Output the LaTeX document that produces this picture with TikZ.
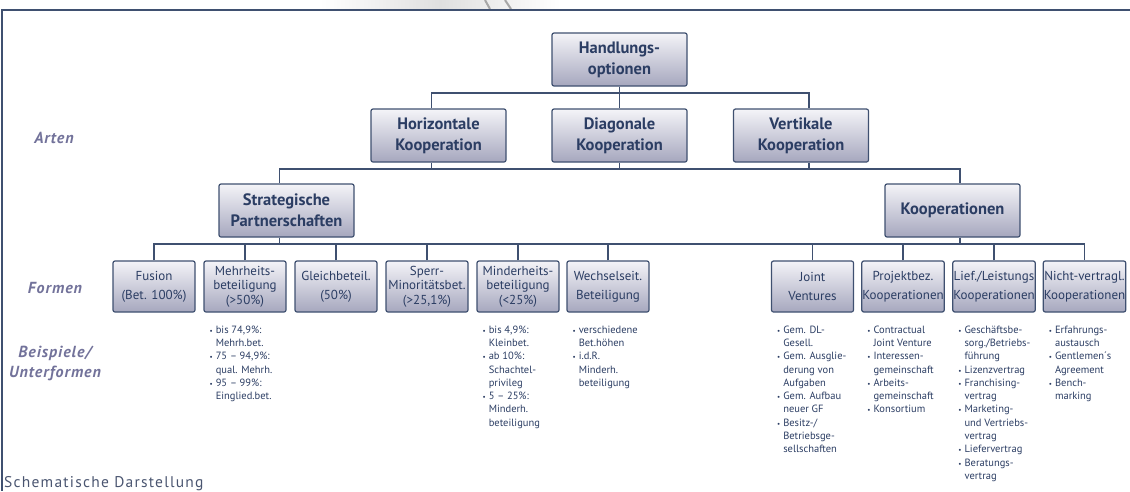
\documentclass[tikz,border=0pt]{standalone}
\usepackage{fontspec}
\setmainfont{PT Sans}
\newfontfamily\sidefont[LetterSpace=6]{PT Sans}
\newfontfamily\fussfont[LetterSpace=8]{PT Sans}
\usetikzlibrary{positioning}
\definecolor{rahmen}{HTML}{3F5070}
\definecolor{schrift}{HTML}{2B3D63}
\definecolor{oben}{HTML}{F4F4F8}
\definecolor{unten}{HTML}{A6A7BE}
\definecolor{seitenfarbe}{HTML}{72729A}
\definecolor{fuss}{HTML}{4A5570}
\tikzset{
  ebene/.style={draw=rahmen, line width=1.2pt, rounded corners=2pt, top color=oben, bottom color=unten,
    text=schrift, align=center, inner sep=0.5pt},
  gross/.style={ebene, minimum width=135pt, minimum height=53pt, font=\fontsize{16.5}{21}\selectfont\bfseries},
  klein/.style={ebene, minimum width=82pt, minimum height=51pt, font=\fontsize{13}{14.5}\selectfont},
  liste/.style={inner sep=0pt, text=schrift, font=\fontsize{10.5}{13.3}\selectfont},
  seite/.style={text=seitenfarbe, align=center, font=\sidefont\fontsize{16}{20}\selectfont\bfseries\itshape},
  linie/.style={draw=rahmen, line width=1.3pt}
}
\newcommand{\pkt}{{\fontsize{7}{7}\selectfont\textbullet}}
\newcommand{\aufz}[1]{\begin{tabular}{@{}l@{\hspace{3pt}}l@{}}#1\end{tabular}}
\begin{document}
\begin{tikzpicture}[x=1pt,y=-1pt]
  \useasboundingbox (0,0) rectangle (1130,491);
  \shade[left color=white, right color=white, middle color=gray!25] (320,0) rectangle (560,9);
  \draw[gray!70, line width=2pt] (485,0) -- (490,9) (505,0) -- (511,9);
  \draw[linie] (1130,10) -- (2,10) -- (2,491);

  \node[gross] (top) at (619.5,59.5) {Handlungs-\\optionen};
  \node[gross] (hor) at (438.5,135.5) {Horizontale\\Kooperation};
  \node[gross] (dia) at (619.5,135.5) {Diagonale\\Kooperation};
  \node[gross] (ver) at (801,135.5) {Vertikale\\Kooperation};
  \node[gross] (strat) at (286.5,210.5) {Strategische\\Partnerschaften};
  \node[gross] (koop) at (952.5,210.5) {Kooperationen};

  \foreach \n/\x/\t in {f1/154/{Fusion\\[4.5pt](Bet. 100\%)},
      f2/245/{Mehrheits-\\beteiligung\\(>50\%)},
      f3/336/{Gleichbeteil.\\[4.5pt](50\%)},
      f4/427/{Sperr-\\Minoritätsbet.\\(>25,1\%)},
      f5/518/{Minderheits-\\beteiligung\\(<25\%)},
      f6/608/{Wechselseit.\\[4.5pt]Beteiligung},
      f7/812.5/{Joint\\[4.5pt]Ventures},
      f8/903/{Projektbez.\\[4.5pt]Kooperationen},
      f9/994/{Lief./Leistungs\\[4.5pt]Kooperationen},
      f10/1084.5/{Nicht-vertragl.\\[4.5pt]Kooperationen}}
    {\node[klein] (\n) at (\x,286.5) {\t};}

  \coordinate (balkenA) at (619.5,93);
  \coordinate (balkenB) at (619.5,169);
  \coordinate (balkenC) at (619.5,244);
  \draw[linie] (top) -- (dia);
  \draw[linie] ([xshift=-7pt]hor.north) |- (balkenA) -| ([xshift=8pt]ver.north);
  \foreach \n/\s in {hor/-7,dia/0,ver/8}
    {\draw[linie] ([xshift=\s pt]\n.south) -- ([xshift=\s pt]\n.south |- balkenB);}
  \draw[linie] ([xshift=-7pt]strat.north) |- (balkenB) -| ([xshift=7.5pt]koop.north);
  \draw[linie] ([xshift=-7pt]strat.south) -- ([xshift=-7pt]strat.south |- balkenC);
  \draw[linie] ([xshift=7.5pt]koop.south) -- ([xshift=7.5pt]koop.south |- balkenC);
  \draw[linie] (f1.north) |- (balkenC) -| (f10.north);
  \foreach \i in {2,...,9}
    {\draw[linie] (f\i.north) -- (f\i.north |- balkenC);}

  \node[liste, below right=11pt and 6pt of f2.south west] (l2) {\aufz{\pkt & bis 74,9\%:\\ & Mehrh.bet.\\
    \pkt & 75 – 94,9\%:\\ & qual. Mehrh.\\ \pkt & 95 – 99\%:\\ & Einglied.bet.}};
  \node[liste, below right=11pt and 6pt of f5.south west] (l5) {\aufz{\pkt & bis 4,9\%:\\ & Kleinbet.\\
    \pkt & ab 10\%:\\ & Schachtel-\\ & privileg\\ \pkt & 5 – 25\%:\\ & Minderh.\\ & beteiligung}};
  \node[liste, below right=11pt and 6pt of f6.south west] (l6) {\aufz{\pkt & verschiedene\\ & Bet.höhen\\
    \pkt & i.d.R.\\ & Minderh.\\ & beteiligung}};
  \node[liste, below right=11pt and 6pt of f7.south west] (l7) {\aufz{\pkt & Gem. DL-\\ & Gesell.\\
    \pkt & Gem. Ausglie-\\ & derung von\\ & Aufgaben\\ \pkt & Gem. Aufbau\\ & neuer GF\\
    \pkt & Besitz-/\\ & Betriebsge-\\ & sellschaften}};
  \node[liste, below right=11pt and 6pt of f8.south west] (l8) {\aufz{\pkt & Contractual\\ & Joint Venture\\
    \pkt & Interessen-\\ & gemeinschaft\\ \pkt & Arbeits-\\ & gemeinschaft\\ \pkt & Konsortium}};
  \node[liste, below right=11pt and 6pt of f9.south west] (l9) {\aufz{\pkt & Geschäftsbe-\\ & sorg./Betriebs-\\
    & führung\\ \pkt & Lizenzvertrag\\ \pkt & Franchising-\\ & vertrag\\ \pkt & Marketing-\\
    & und Vertriebs-\\ & vertrag\\ \pkt & Liefervertrag\\ \pkt & Beratungs-\\ & vertrag}};
  \node[liste, below right=11pt and 6pt of f10.south west] (l10) {\aufz{\pkt & Erfahrungs-\\ & austausch\\
    \pkt & Gentlemen´s\\ & Agreement\\ \pkt & Bench-\\ & marking}};

  \node[seite] (arten) at (54,138) {Arten};
  \node[seite] (formen) at (55,288) {Formen};
  \node[seite] (beispiele) at (55,363) {Beispiele/\\Unterformen};
  \node[anchor=base west, inner sep=0pt, text=fuss, font=\fussfont\fontsize{15.5}{18}\selectfont] (titel)
    at (4,487) {Schematische Darstellung};
\end{tikzpicture}
\end{document}
